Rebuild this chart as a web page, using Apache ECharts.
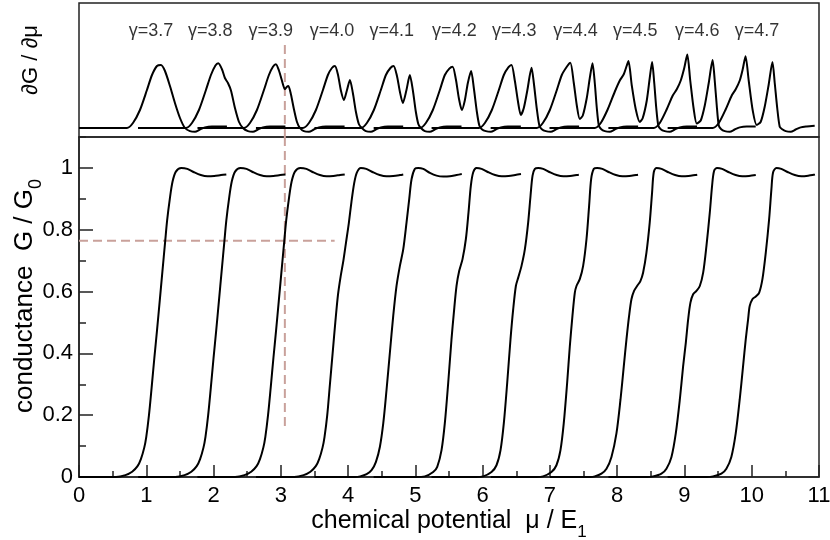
<!DOCTYPE html>
<html><head><meta charset="utf-8">
<script src="https://cdn.jsdelivr.net/npm/echarts@6/dist/echarts.min.js"></script>
<style>html,body{margin:0;padding:0;background:#fff}#c{width:830px;height:540px}</style>
</head><body><div id="c"></div>
<script>
// ---- labels ----
const gammaLabels = ['γ=3.7','γ=3.8','γ=3.9','γ=4.0','γ=4.1','γ=4.2','γ=4.3','γ=4.4','γ=4.5','γ=4.6','γ=4.7'];
const gammaLabelX = [1.07,1.95,2.85,3.76,4.65,5.58,6.47,7.38,8.27,9.19,10.08];
const gammaLabelY = 7.76;
const xTicks = [0,1,2,3,4,5,6,7,8,9,10,11];
const yTicks = [0,0.2,0.4,0.6,0.8,1];
const topYTitle = '∂G / ∂μ';
const bottomYTitle = 'conductance  G / G{sub|0}';
const xTitle = 'chemical potential  μ / E{sub|1}';

// ---- conductance G/G0 vs mu/E1 (bottom panel) ----
const G37 = [[0,0],[0.55,0],[0.69,0.006],[0.79,0.017],[0.87,0.035],[0.92,0.058],[0.97,0.095],[1.0,0.13],[1.04,0.2],[1.08,0.29],[1.12,0.385],[1.16,0.475],[1.2,0.57],[1.24,0.665],[1.28,0.76],[1.31,0.83],[1.35,0.9],[1.39,0.955],[1.44,0.988],[1.52,1.0],[1.61,0.997],[1.71,0.986],[1.81,0.977],[1.91,0.973],[2.01,0.974],[2.11,0.977],[2.19,0.979]];
const G38 = [[0.88,0],[1.43,0],[1.57,0.006],[1.67,0.017],[1.75,0.035],[1.8,0.058],[1.85,0.095],[1.88,0.13],[1.92,0.2],[1.96,0.29],[2.0,0.385],[2.04,0.475],[2.08,0.57],[2.12,0.665],[2.16,0.76],[2.19,0.83],[2.23,0.9],[2.27,0.955],[2.32,0.988],[2.4,1.0],[2.49,0.997],[2.59,0.986],[2.69,0.977],[2.79,0.973],[2.89,0.974],[2.99,0.977],[3.07,0.979]];
const G39 = [[1.76,0],[2.32,0],[2.46,0.006],[2.56,0.017],[2.64,0.035],[2.69,0.058],[2.74,0.095],[2.77,0.13],[2.81,0.2],[2.85,0.29],[2.89,0.385],[2.93,0.475],[2.97,0.57],[3.01,0.665],[3.05,0.76],[3.08,0.83],[3.12,0.9],[3.16,0.955],[3.21,0.988],[3.29,1.0],[3.38,0.997],[3.48,0.986],[3.58,0.977],[3.68,0.973],[3.78,0.974],[3.88,0.977],[3.95,0.979]];
const G40 = [[2.63,0],[3.2,0],[3.34,0.006],[3.44,0.017],[3.52,0.035],[3.57,0.058],[3.62,0.095],[3.65,0.13],[3.69,0.2],[3.73,0.3],[3.77,0.4],[3.81,0.5],[3.85,0.59],[3.89,0.65],[3.93,0.7],[3.97,0.76],[4.01,0.82],[4.05,0.89],[4.09,0.95],[4.13,0.985],[4.19,1.0],[4.27,0.997],[4.37,0.986],[4.47,0.977],[4.57,0.973],[4.67,0.974],[4.77,0.977],[4.82,0.979]];
const G41 = [[3.5,0],[4.1,0],[4.18,0.002],[4.275,0.009],[4.349,0.022],[4.414,0.049],[4.473,0.098],[4.523,0.174],[4.572,0.283],[4.621,0.402],[4.671,0.521],[4.72,0.618],[4.77,0.683],[4.82,0.737],[4.869,0.824],[4.909,0.9],[4.944,0.964],[4.993,0.997],[5.042,1.0],[5.117,0.997],[5.216,0.984],[5.315,0.975],[5.414,0.972],[5.513,0.973],[5.612,0.977],[5.69,0.98]];
const G42 = [[4.38,0],[5.0,0],[5.141,0.002],[5.265,0.016],[5.325,0.033],[5.389,0.087],[5.438,0.174],[5.488,0.304],[5.537,0.445],[5.572,0.531],[5.612,0.618],[5.652,0.667],[5.701,0.705],[5.751,0.77],[5.79,0.856],[5.825,0.943],[5.86,0.986],[5.909,1.0],[5.985,0.997],[6.085,0.986],[6.185,0.977],[6.285,0.973],[6.385,0.974],[6.485,0.977],[6.57,0.98]];
const G43 = [[5.24,0],[5.9,0],[6.008,0.002],[6.132,0.016],[6.206,0.038],[6.266,0.087],[6.315,0.174],[6.365,0.304],[6.414,0.445],[6.454,0.542],[6.494,0.618],[6.529,0.645],[6.578,0.683],[6.628,0.737],[6.677,0.824],[6.712,0.91],[6.742,0.975],[6.776,0.997],[6.826,1.0],[6.9,0.997],[7.0,0.986],[7.1,0.977],[7.2,0.973],[7.3,0.974],[7.4,0.977],[7.43,0.978]];
const G44 = [[6.12,0],[6.8,0],[6.899,0.002],[7.023,0.016],[7.097,0.038],[7.157,0.087],[7.206,0.174],[7.256,0.304],[7.296,0.423],[7.335,0.521],[7.37,0.596],[7.395,0.618],[7.444,0.64],[7.494,0.683],[7.544,0.77],[7.583,0.878],[7.613,0.964],[7.653,0.997],[7.702,1.0],[7.78,0.997],[7.88,0.986],[7.98,0.977],[8.08,0.973],[8.18,0.974],[8.28,0.977],[8.31,0.978]];
const G45 = [[7.0,0],[7.6,0],[7.667,0.002],[7.766,0.011],[7.841,0.027],[7.915,0.065],[7.989,0.141],[8.049,0.25],[8.098,0.358],[8.138,0.445],[8.177,0.521],[8.212,0.575],[8.251,0.602],[8.296,0.618],[8.345,0.634],[8.385,0.661],[8.435,0.726],[8.484,0.824],[8.519,0.921],[8.544,0.986],[8.583,1.0],[8.66,0.997],[8.76,0.986],[8.86,0.977],[8.96,0.973],[9.06,0.974],[9.16,0.977],[9.19,0.978]];
const G46 = [[7.87,0],[8.45,0],[8.534,0.002],[8.658,0.011],[8.732,0.027],[8.807,0.065],[8.871,0.141],[8.931,0.25],[8.98,0.358],[9.02,0.434],[9.055,0.51],[9.089,0.564],[9.129,0.591],[9.178,0.602],[9.228,0.618],[9.278,0.661],[9.327,0.748],[9.377,0.856],[9.411,0.943],[9.441,0.991],[9.485,1.0],[9.56,0.997],[9.66,0.986],[9.76,0.977],[9.86,0.973],[9.96,0.974],[10.06,0.977]];
const G47 = [[8.75,0],[9.33,0],[9.425,0.002],[9.549,0.011],[9.623,0.027],[9.697,0.065],[9.762,0.141],[9.821,0.25],[9.871,0.358],[9.911,0.445],[9.946,0.51],[9.97,0.553],[10.01,0.575],[10.06,0.584],[10.11,0.596],[10.159,0.64],[10.209,0.726],[10.259,0.835],[10.293,0.932],[10.318,0.986],[10.368,1.0],[10.44,0.997],[10.54,0.986],[10.64,0.977],[10.74,0.973],[10.84,0.975],[10.94,0.979]];

// ---- dG/dmu (top panel, arbitrary units) ----
const D37 = [[0,0],[0.713,0],[0.802,0.4],[0.906,1.44],[1.01,3.04],[1.085,4.24],[1.159,4.96],[1.218,5.04],[1.278,4.56],[1.352,3.36],[1.426,2.0],[1.501,0.8],[1.575,0],[1.649,-0.25],[1.724,-0.3],[1.798,-0.12],[1.872,0.05],[1.976,0.12],[2.199,0.12]];
const D38 = [[0.877,0],[1.59,0],[1.679,0.4],[1.783,1.44],[1.887,3.04],[1.961,4.24],[2.028,5.0],[2.07,5.18],[2.125,4.7],[2.169,4.0],[2.214,3.6],[2.259,3.0],[2.318,1.6],[2.377,0.5],[2.437,0],[2.511,-0.25],[2.585,-0.3],[2.66,-0.12],[2.734,0.05],[2.838,0.12],[3.068,0.12]];
const D39 = [[1.761,0],[2.452,0],[2.541,0.4],[2.645,1.44],[2.749,3.04],[2.823,4.24],[2.883,4.9],[2.927,5.1],[2.972,4.6],[3.016,3.8],[3.061,3.1],[3.091,3.3],[3.113,3.36],[3.15,2.7],[3.195,1.5],[3.239,0.5],[3.284,0],[3.343,-0.25],[3.418,-0.3],[3.492,-0.12],[3.566,0.05],[3.67,0.12],[3.948,0.12]];
const D40 = [[2.63,0],[3.328,0],[3.418,0.4],[3.522,1.44],[3.626,3.04],[3.7,4.24],[3.759,4.8],[3.804,4.96],[3.848,4.3],[3.893,3.0],[3.938,2.24],[3.982,3.0],[4.027,3.84],[4.071,2.8],[4.116,1.3],[4.161,0.3],[4.205,0],[4.264,-0.25],[4.339,-0.3],[4.413,-0.12],[4.487,0.05],[4.591,0.12],[4.819,0.12]];
const D41 = [[3.499,0],[4.19,0],[4.279,0.4],[4.383,1.44],[4.487,3.04],[4.562,4.24],[4.629,4.8],[4.676,4.96],[4.725,4.2],[4.77,2.9],[4.814,2.0],[4.866,3.0],[4.918,4.24],[4.963,3.0],[5.007,1.3],[5.045,0.3],[5.082,0],[5.141,-0.25],[5.215,-0.3],[5.29,-0.12],[5.364,0.05],[5.468,0.12],[5.686,0.12]];
const D42 = [[4.38,0],[5.067,0],[5.156,0.4],[5.26,1.44],[5.364,3.04],[5.438,4.24],[5.505,4.75],[5.553,4.9],[5.602,3.9],[5.646,2.4],[5.691,1.44],[5.735,2.2],[5.78,3.6],[5.829,4.56],[5.869,3.2],[5.914,1.3],[5.951,0.2],[5.988,-0.1],[6.048,-0.25],[6.122,-0.3],[6.196,-0.12],[6.271,0.05],[6.375,0.12],[6.568,0.12]];
const D43 = [[5.241,0],[5.944,0],[6.033,0.4],[6.137,1.44],[6.241,3.04],[6.315,4.24],[6.382,4.85],[6.429,5.04],[6.478,3.8],[6.523,2.2],[6.568,1.04],[6.612,1.6],[6.664,3.0],[6.727,4.82],[6.761,3.6],[6.806,1.5],[6.843,0.2],[6.88,-0.1],[6.939,-0.25],[7.013,-0.3],[7.088,-0.12],[7.162,0.05],[7.266,0.12],[7.434,0.12]];
const D44 = [[6.119,0],[6.805,0],[6.895,0.4],[6.999,1.44],[7.103,3.04],[7.177,4.24],[7.251,4.9],[7.303,5.22],[7.355,3.6],[7.4,1.8],[7.444,0.72],[7.489,1.0],[7.548,2.4],[7.593,4.0],[7.633,5.18],[7.667,3.6],[7.697,1.6],[7.727,0.2],[7.764,-0.1],[7.816,-0.25],[7.89,-0.3],[7.964,-0.12],[8.039,0.05],[8.143,0.12],[8.311,0.12]];
const D45 = [[6.994,0],[7.667,0],[7.756,0.4],[7.86,1.5],[7.964,2.9],[8.039,3.8],[8.098,4.3],[8.143,5.0],[8.168,5.36],[8.217,3.4],[8.276,1.5],[8.336,0.48],[8.38,0.8],[8.44,2.2],[8.484,4.0],[8.519,5.28],[8.551,3.6],[8.581,1.6],[8.611,0.2],[8.648,-0.1],[8.707,-0.25],[8.782,-0.3],[8.856,-0.12],[8.93,0.05],[9.034,0.12],[9.187,0.12]];
const D46 = [[7.869,0],[8.544,0],[8.633,0.4],[8.737,1.5],[8.826,2.6],[8.886,3.1],[8.945,3.8],[8.997,4.8],[9.042,5.88],[9.086,3.8],[9.138,1.5],[9.183,0.36],[9.242,0.6],[9.302,1.8],[9.361,3.6],[9.418,5.44],[9.45,3.8],[9.48,1.8],[9.51,0.2],[9.547,-0.1],[9.599,-0.25],[9.673,-0.3],[9.747,-0.12],[9.822,0.05],[9.926,0.12],[10.059,0.12]];
const D47 = [[8.75,0],[9.42,0],[9.51,0.4],[9.614,1.5],[9.703,2.6],[9.762,3.1],[9.822,3.8],[9.866,4.7],[9.908,5.74],[9.955,3.8],[10.015,1.4],[10.074,0.24],[10.134,0.5],[10.193,1.7],[10.253,3.5],[10.308,5.28],[10.342,3.6],[10.379,1.6],[10.416,0.1],[10.453,-0.1],[10.505,-0.25],[10.579,-0.3],[10.654,-0.12],[10.728,0.05],[10.817,0.12],[10.936,0.18]];

// ---- guide lines ----
const vGuideTop = [[3.06, 6.64],[3.06, -0.72]];
const vGuideBottom = [[3.06, 1.1],[3.06, 0.153]];
const hGuide = [[0, 0.764],[3.8, 0.764]];

const condCurves = [G37,G38,G39,G40,G41,G42,G43,G44,G45,G46,G47];
const derivCurves = [D37,D38,D39,D40,D41,D42,D43,D44,D45,D46,D47];

const FONT = 'Liberation Sans, Arial, Helvetica, sans-serif';
const chart = echarts.init(document.getElementById('c'), null, {renderer:'canvas'});
const series = [];
const guideStyle = {color:'#c9a19b', width:2, type:[9,5]};
series.push({type:'line', xAxisIndex:0, yAxisIndex:0, data:vGuideTop, symbol:'none', lineStyle:guideStyle, silent:true, z:1});
series.push({type:'line', xAxisIndex:1, yAxisIndex:1, data:vGuideBottom, symbol:'none', lineStyle:guideStyle, silent:true, z:1});
series.push({type:'line', xAxisIndex:1, yAxisIndex:1, data:hGuide, symbol:'none', lineStyle:guideStyle, silent:true, z:1});
derivCurves.forEach((d,i)=>series.push({name:'dG '+gammaLabels[i], type:'line', xAxisIndex:0, yAxisIndex:0, data:d, symbol:'none', smooth:0.25, lineStyle:{color:'#000', width:2}, silent:true, z:3}));
condCurves.forEach((d,i)=>series.push({name:'G '+gammaLabels[i], type:'line', xAxisIndex:1, yAxisIndex:1, data:d, symbol:'none', smooth:0.3, lineStyle:{color:'#000', width:2}, silent:true, z:3}));
series.push({type:'scatter', xAxisIndex:0, yAxisIndex:0, symbolSize:0, silent:true,
  data: gammaLabelX.map((x,i)=>({value:[x,gammaLabelY], name:gammaLabels[i]})),
  label:{show:true, position:'inside', formatter:p=>p.name, color:'#000', fontSize:18, fontFamily:FONT}});

const subRich = {sub:{fontSize:17, lineHeight:17, verticalAlign:'bottom', fontFamily:FONT, color:'#000'}};
chart.setOption({
  animation:false,
  backgroundColor:'#fff',
  grid:[
    {left:79, right:11, top:3, height:134, containLabel:false, outerBoundsMode:'none', show:true, borderColor:'#222', borderWidth:1.5, backgroundColor:'transparent'},
    {left:79, right:11, top:137, height:340, containLabel:false, outerBoundsMode:'none', show:true, borderColor:'#222', borderWidth:1.5, backgroundColor:'transparent'}
  ],
  graphic:[
    {type:'text', x:31, y:60, rotation:Math.PI/2, silent:true,
      style:{text:topYTitle, fontSize:22, fontFamily:FONT, fill:'#000', align:'center', verticalAlign:'middle'}},
    {type:'text', x:25, y:296, rotation:Math.PI/2, silent:true,
      style:{text:bottomYTitle, fontSize:26, fontFamily:FONT, fill:'#000', align:'center', verticalAlign:'middle', lineHeight:40, rich:{sub:{fontSize:18, lineHeight:18, verticalAlign:'bottom', fontFamily:FONT, fill:'#000'}}}}
  ],
  xAxis:[
    {gridIndex:0, type:'value', min:0, max:11, axisLine:{show:false}, axisTick:{show:false}, axisLabel:{show:false}, splitLine:{show:false}},
    {gridIndex:1, type:'value', min:0, max:11, interval:1, position:'bottom',
      name:xTitle, nameLocation:'middle', nameGap:24, nameMoveOverlap:false,
      nameTextStyle:{fontSize:25, fontFamily:FONT, color:'#000', lineHeight:40, rich:subRich},
      axisLine:{show:true, lineStyle:{color:'#222', width:1.5}},
      axisTick:{show:true, inside:true, length:12, lineStyle:{color:'#222', width:1.5}},
      minorTick:{show:true, splitNumber:2, length:6, lineStyle:{color:'#222', width:1.5}},
      axisLabel:{show:true, fontSize:22, fontFamily:FONT, color:'#000', margin:8},
      splitLine:{show:false}}
  ],
  yAxis:[
    {gridIndex:0, type:'value', min:-0.72, max:10, position:'left',
      axisLine:{show:false}, axisTick:{show:false}, axisLabel:{show:false}, splitLine:{show:false}},
    {gridIndex:1, type:'value', min:0, max:1.1, interval:0.2, position:'left',
      axisLine:{show:true, lineStyle:{color:'#222', width:1.5}},
      axisTick:{show:true, inside:true, length:14, lineStyle:{color:'#222', width:1.5}},
      axisLabel:{show:true, fontSize:22, fontFamily:FONT, color:'#000', margin:6, showMaxLabel:false},
      splitLine:{show:false}},
    {gridIndex:1, type:'value', min:0, max:1.1, interval:0.1, position:'left', offset:0,
      axisLine:{show:false}, axisTick:{show:true, inside:true, length:7, lineStyle:{color:'#222', width:1.5}},
      axisLabel:{show:false}, splitLine:{show:false}}
  ],
  series: series
});
</script></body></html>
